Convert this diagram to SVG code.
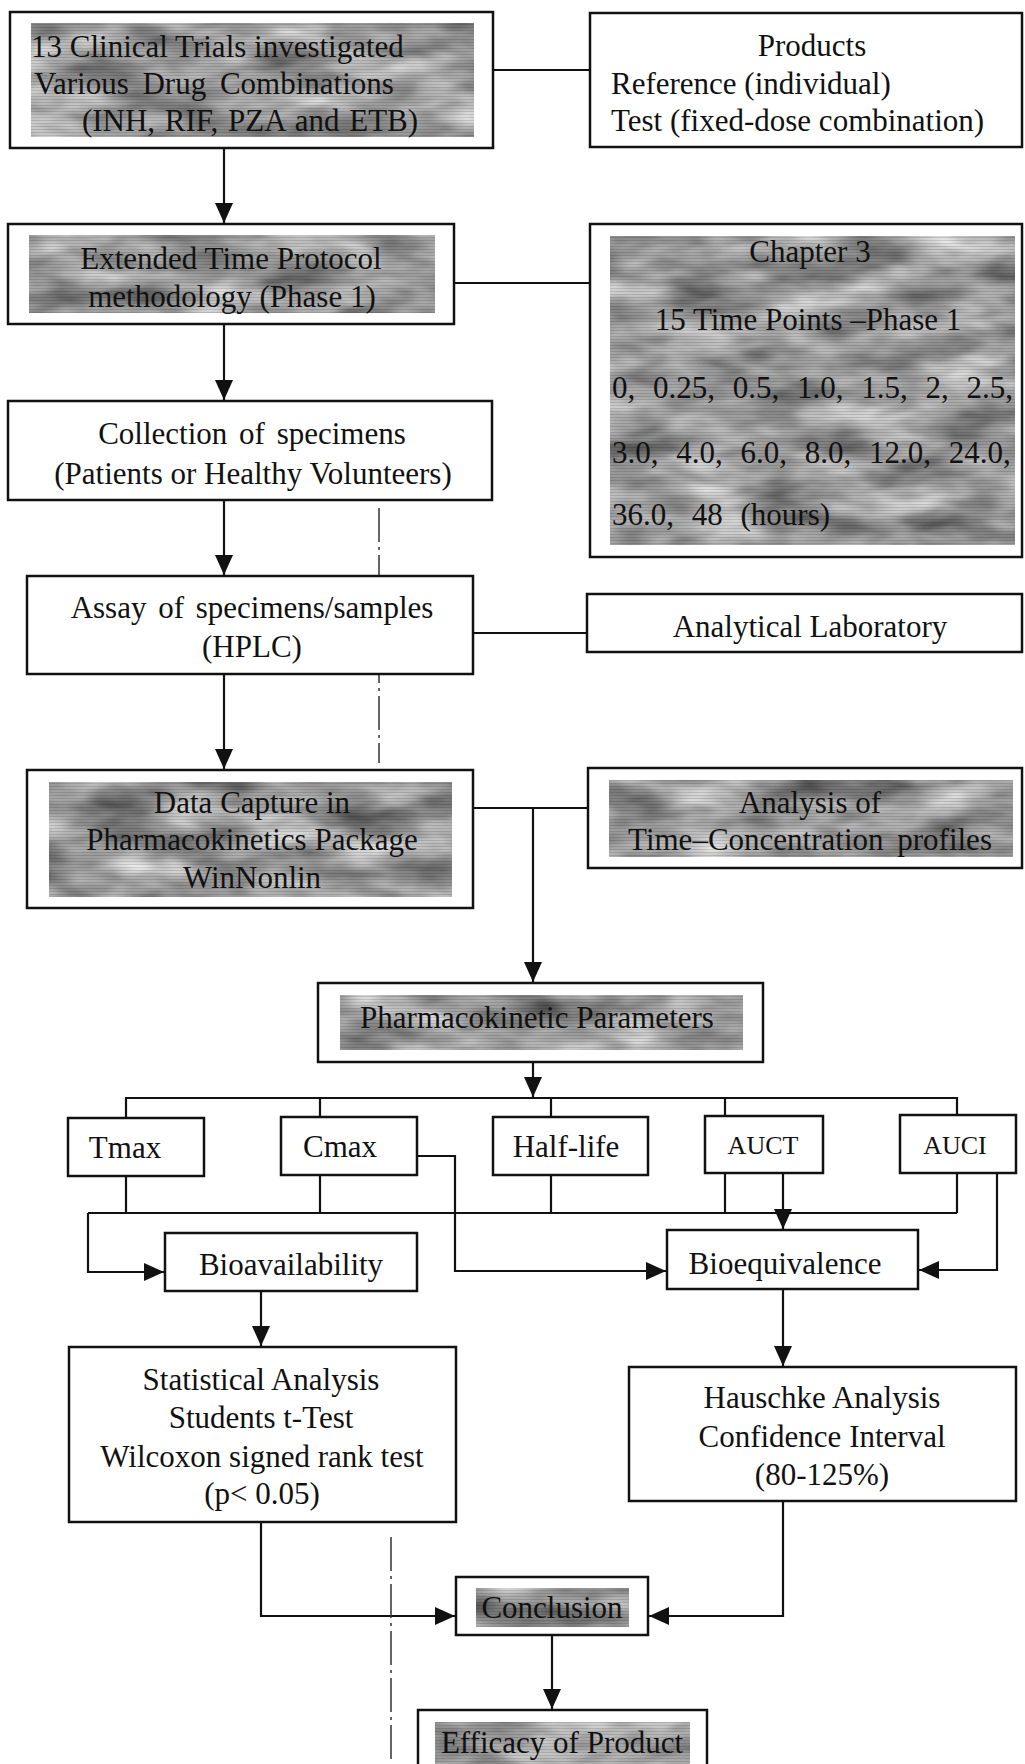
<svg xmlns="http://www.w3.org/2000/svg" width="1025" height="1764" viewBox="0 0 1025 1764">
<style>
  .box { fill: #ffffff; stroke: #111; stroke-width: 2.5; }
  .shade { fill: #999; filter: url(#mottle); }
  .scan { fill: url(#scan); }
  .t { font-family: "Liberation Serif", "Times New Roman", serif; font-size: 31px; fill: #111; }
  .c { text-anchor: middle; }
  .s { font-size: 26px; }
  .ln { fill: none; stroke: #111; stroke-width: 2.2; }
  .arr { fill: none; stroke: #111; stroke-width: 2.2; marker-end: url(#ah); }
  .dd { fill: none; stroke: #333; stroke-width: 1.5; stroke-dasharray: 34 5 3 5; }
</style>
<defs>
  <marker id="ah" viewBox="0 0 20 20" refX="20" refY="10" markerWidth="20" markerHeight="20" markerUnits="userSpaceOnUse" orient="auto">
    <path d="M0,1 L20,10 L0,19 Z" fill="#111"/>
  </marker>
  <filter id="mottle" x="0" y="0" width="1" height="1" color-interpolation-filters="sRGB">
    <feTurbulence type="fractalNoise" baseFrequency="0.012 0.035" numOctaves="3" seed="7" result="n"/>
    <feColorMatrix in="n" type="matrix" values="0.8 0 0 0 0.22  0.8 0 0 0 0.22  0.8 0 0 0 0.22  0 0 0 0 1" result="g"/>
    <feComposite in="g" in2="SourceGraphic" operator="in"/>
  </filter>
  <pattern id="scan" width="4" height="3" patternUnits="userSpaceOnUse">
    <rect width="4" height="1" fill="#000" opacity="0.12"/>
  </pattern>
</defs>
<rect width="1025" height="1764" fill="#ffffff"/>

<g id="connectors">
  <path class="ln" d="M493,70 H590"/>
  <path class="arr" d="M224,148 V223"/>
  <path class="ln" d="M454,283 H590"/>
  <path class="arr" d="M224,324 V400"/>
  <path class="arr" d="M224,500 V575"/>
  <path class="ln" d="M473,633 H587"/>
  <path class="arr" d="M224,674 V769"/>
  <path class="ln" d="M473,808 H588"/>
  <path class="arr" d="M533,808 V982"/>
  <path class="arr" d="M533,1062 V1097"/>
  <path class="ln" d="M126,1118 V1098 H957 V1115"/>
  <path class="ln" d="M320,1098 V1117 M551,1098 V1117 M725,1098 V1116"/>
  <path class="ln" d="M126,1176 V1213 M320,1175 V1213 M551,1175 V1213 M725,1173 V1213 M957,1173 V1213"/>
  <path class="ln" d="M88,1213 H957"/>
  <path class="arr" d="M88,1213 V1272 H164"/>
  <path class="arr" d="M417,1156 H455 V1271 H666"/>
  <path class="arr" d="M783,1173 V1229"/>
  <path class="arr" d="M997,1173 V1270 H919"/>
  <path class="arr" d="M261,1291 V1346"/>
  <path class="arr" d="M783,1289 V1366"/>
  <path class="arr" d="M261,1522 V1616 H455"/>
  <path class="arr" d="M783,1501 V1616 H649"/>
  <path class="arr" d="M552,1635 V1709"/>
</g>

<g id="fold-line">
  <path class="dd" d="M379,508 V763"/>
  <path class="dd" d="M391,1537 V1764"/>
</g>

<g id="trials">
  <rect class="box" x="10" y="12" width="483" height="136"/>
  <rect class="shade" x="31" y="23" width="443" height="114"/>
  <rect class="scan" x="31" y="23" width="443" height="114"/>
  <text class="t" x="31" y="57">13 Clinical Trials investigated</text>
  <text class="t" x="34" y="94" word-spacing="6">Various Drug Combinations</text>
  <text class="t c" x="250" y="131" word-spacing="2">(INH, RIF, PZA and ETB)</text>
</g>

<g id="products">
  <rect class="box" x="590" y="13" width="432" height="134"/>
  <text class="t c" x="812" y="56">Products</text>
  <text class="t" x="611" y="94">Reference (individual)</text>
  <text class="t" x="611" y="131">Test (fixed-dose combination)</text>
</g>

<g id="protocol">
  <rect class="box" x="8" y="224" width="446" height="100"/>
  <rect class="shade" x="29" y="235" width="406" height="78"/>
  <rect class="scan" x="29" y="235" width="406" height="78"/>
  <text class="t c" x="231" y="269">Extended Time Protocol</text>
  <text class="t c" x="232" y="307">methodology (Phase 1)</text>
</g>

<g id="chapter3">
  <rect class="box" x="590" y="224" width="432" height="333"/>
  <rect class="shade" x="610" y="236" width="405" height="309"/>
  <rect class="scan" x="610" y="236" width="405" height="309"/>
  <text class="t c" x="810" y="262">Chapter 3</text>
  <text class="t c" x="808" y="330">15 Time Points –Phase 1</text>
  <text class="t" x="612" y="398" word-spacing="10">0, 0.25, 0.5, 1.0, 1.5, 2, 2.5,</text>
  <text class="t" x="612" y="463" word-spacing="10">3.0, 4.0, 6.0, 8.0, 12.0, 24.0,</text>
  <text class="t" x="612" y="525" word-spacing="10">36.0, 48 (hours)</text>
</g>

<g id="collection">
  <rect class="box" x="8" y="401" width="484" height="99"/>
  <text class="t c" x="252" y="444" word-spacing="4">Collection of specimens</text>
  <text class="t c" x="253" y="484">(Patients or Healthy Volunteers)</text>
</g>

<g id="assay">
  <rect class="box" x="27" y="576" width="446" height="98"/>
  <text class="t c" x="252" y="618" word-spacing="4">Assay of specimens/samples</text>
  <text class="t c" x="252" y="657">(HPLC)</text>
</g>

<g id="lab">
  <rect class="box" x="587" y="594" width="435" height="58"/>
  <text class="t c" x="810" y="637">Analytical Laboratory</text>
</g>

<g id="datacapture">
  <rect class="box" x="27" y="770" width="446" height="138"/>
  <rect class="shade" x="49" y="782" width="403" height="115"/>
  <rect class="scan" x="49" y="782" width="403" height="115"/>
  <text class="t c" x="252" y="813">Data Capture in</text>
  <text class="t c" x="252" y="850">Pharmacokinetics Package</text>
  <text class="t c" x="252" y="888">WinNonlin</text>
</g>

<g id="analysis">
  <rect class="box" x="588" y="768" width="434" height="100"/>
  <rect class="shade" x="609" y="780" width="404" height="77"/>
  <rect class="scan" x="609" y="780" width="404" height="77"/>
  <text class="t c" x="810" y="813">Analysis of</text>
  <text class="t c" x="810" y="850" word-spacing="6">Time–Concentration profiles</text>
</g>

<g id="pkparams">
  <rect class="box" x="318" y="983" width="445" height="79"/>
  <rect class="shade" x="340" y="995" width="403" height="55"/>
  <rect class="scan" x="340" y="995" width="403" height="55"/>
  <text class="t c" x="537" y="1028">Pharmacokinetic Parameters</text>
</g>

<g id="tmax">
  <rect class="box" x="68" y="1118" width="136" height="58"/>
  <text class="t c" x="125" y="1158">Tmax</text>
</g>
<g id="cmax">
  <rect class="box" x="281" y="1117" width="136" height="58"/>
  <text class="t c" x="340" y="1157">Cmax</text>
</g>
<g id="halflife">
  <rect class="box" x="493" y="1117" width="155" height="58"/>
  <text class="t c" x="566" y="1157">Half-life</text>
</g>
<g id="auct">
  <rect class="box" x="705" y="1116" width="118" height="57"/>
  <text class="t c s" x="763" y="1154">AUCT</text>
</g>
<g id="auci">
  <rect class="box" x="900" y="1115" width="116" height="58"/>
  <text class="t c s" x="955" y="1154">AUCI</text>
</g>

<g id="bioavailability">
  <rect class="box" x="165" y="1233" width="252" height="58"/>
  <text class="t c" x="291" y="1275">Bioavailability</text>
</g>
<g id="bioequivalence">
  <rect class="box" x="667" y="1230" width="251" height="59"/>
  <text class="t c" x="785" y="1274">Bioequivalence</text>
</g>

<g id="statistical">
  <rect class="box" x="69" y="1347" width="387" height="175"/>
  <text class="t c" x="261" y="1390">Statistical Analysis</text>
  <text class="t c" x="261" y="1428">Students t-Test</text>
  <text class="t c" x="262" y="1467">Wilcoxon signed rank test</text>
  <text class="t c" x="262" y="1504">(p&lt; 0.05)</text>
</g>

<g id="hauschke">
  <rect class="box" x="629" y="1367" width="387" height="134"/>
  <text class="t c" x="822" y="1408">Hauschke Analysis</text>
  <text class="t c" x="822" y="1447">Confidence Interval</text>
  <text class="t c" x="822" y="1485">(80-125%)</text>
</g>

<g id="conclusion">
  <rect class="box" x="456" y="1577" width="192" height="58"/>
  <rect class="shade" x="476" y="1588" width="153" height="39"/>
  <rect class="scan" x="476" y="1588" width="153" height="39"/>
  <text class="t c" x="552" y="1618">Conclusion</text>
</g>

<g id="efficacy">
  <rect class="box" x="418" y="1710" width="289" height="70"/>
  <rect class="shade" x="435" y="1722" width="255" height="50"/>
  <rect class="scan" x="435" y="1722" width="255" height="50"/>
  <text class="t c" x="562" y="1753">Efficacy of Product</text>
</g>
</svg>
